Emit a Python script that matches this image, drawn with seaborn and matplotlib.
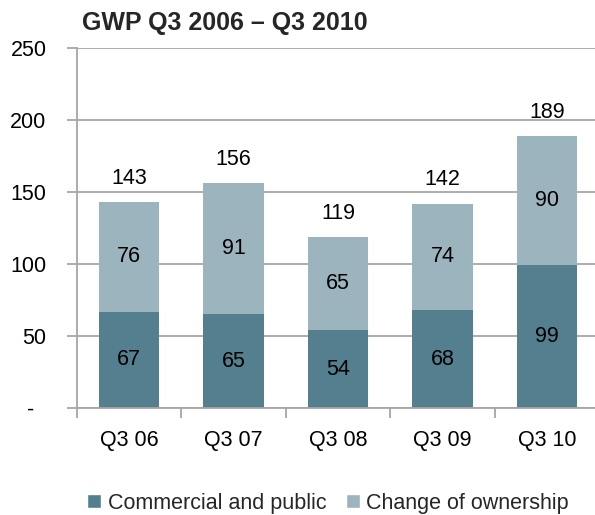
import matplotlib
matplotlib.use("Agg")
import matplotlib.pyplot as plt
import seaborn as sns
import pandas as pd
import numpy as np
from matplotlib.patches import Patch

categories = ["Q3 06", "Q3 07", "Q3 08", "Q3 09", "Q3 10"]
commercial = [67, 65, 54, 68, 99]
ownership = [76, 91, 65, 74, 90]
totals = [143, 156, 119, 142, 189]
yticks = [0, 50, 100, 150, 200, 250]
ytick_labels = ["-  ", "50", "100", "150", "200", "250"]

dark = "#537F8E"
light = "#9BB4BE"
grid_c = "#A6A6A6"
FS = 15.5

sns.set_theme(style="white")
plt.rcParams["font.family"] = ["Liberation Sans", "DejaVu Sans"]

df = pd.DataFrame({"cat": categories, "com": commercial, "own": ownership,
                   "tot": [c + o for c, o in zip(commercial, ownership)]})

fig = plt.figure(figsize=(5.95, 5.15), dpi=100)
ax = fig.add_axes([77/595, 1-408/515, 522/595, 360/515])

sns.barplot(data=df, x="cat", y="tot", color=light, saturation=1, width=0.58, ax=ax,
            zorder=3, linewidth=0, edgecolor="none")
sns.barplot(data=df, x="cat", y="com", color=dark, saturation=1, width=0.58, ax=ax,
            zorder=3, linewidth=0, edgecolor="none")

ax.set_ylim(0, 250)
ax.set_xlim(-0.5, len(categories) - 0.5)
ax.set_yticks(yticks)
ax.set_yticklabels(ytick_labels, fontsize=FS, color="black")
ax.yaxis.grid(True, color=grid_c, linewidth=1.3, zorder=0)
ax.set_axisbelow(True)
ax.tick_params(axis="y", which="major", length=7, width=1.3, color=grid_c, left=True, pad=15)

ax.set_xticks(range(len(categories)))
ax.set_xticklabels(categories, fontsize=FS, color="black")
ax.tick_params(axis="x", which="major", length=0, pad=16)
ax.set_xticks(np.arange(-0.5, len(categories) - 0.5, 1), minor=True)
ax.tick_params(axis="x", which="minor", length=7, width=1.3, color=grid_c, bottom=True)

ax.set_xlabel("")
ax.set_ylabel("")
for s in ["top", "right"]:
    ax.spines[s].set_visible(False)
for s in ["left", "bottom"]:
    ax.spines[s].set_color(grid_c)
    ax.spines[s].set_linewidth(1.3)
    ax.spines[s].set_zorder(4)

for i, (c, o, t) in enumerate(zip(commercial, ownership, totals)):
    ax.text(i, c / 2, str(c), ha="center", va="center", fontsize=FS, color="black", zorder=5)
    ax.text(i, c + o / 2, str(o), ha="center", va="center", fontsize=FS, color="black", zorder=5)
    ax.annotate(str(t), xy=(i, c + o), xytext=(0, 17), textcoords="offset points",
                ha="center", va="center", fontsize=FS, color="black", zorder=5)

fig.text(82/595, 1-23/515, "GWP Q3 2006 \u2013 Q3 2010", fontsize=18, fontweight="bold",
         ha="left", va="center")

handles = [Patch(facecolor=dark, label="Commercial and public"),
           Patch(facecolor=light, label="Change of ownership")]
fig.legend(handles=handles, loc="center", bbox_to_anchor=(328/595, 1-503/515), ncol=2,
           frameon=False, fontsize=FS, handlelength=0.65, handleheight=0.65,
           handletextpad=0.3, columnspacing=0.9, borderaxespad=0)

fig.savefig("out.png", dpi=100)
